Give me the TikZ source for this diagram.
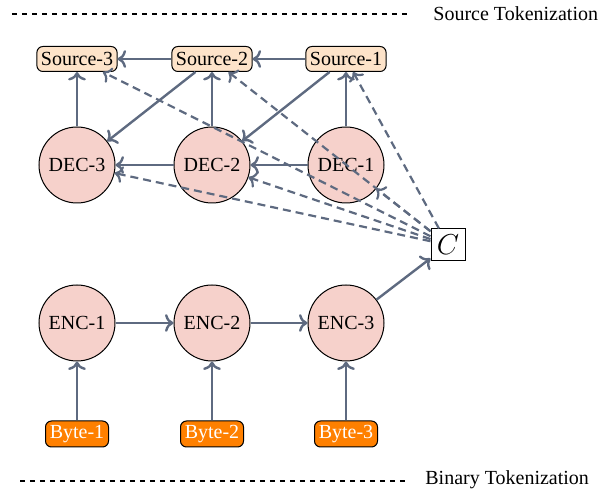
\documentclass[tikz,border=0pt]{standalone}
\usepackage{fontspec}
\setmainfont{Liberation Serif}
\usetikzlibrary{arrows.meta}
\definecolor{edgecol}{HTML}{5E6A80}
\definecolor{srcfill}{HTML}{FDE3C9}
\definecolor{decfill}{HTML}{F6D1CB}
\definecolor{bytefill}{HTML}{FF8000}
\tikzset{
  srcbox/.style={draw=black, line width=0.5pt, fill=srcfill, rounded corners=3pt, minimum width=40pt, minimum height=12.5pt, inner xsep=2pt, inner ysep=1pt, font=\fontsize{10}{12}\selectfont},
  bytebox/.style={draw=black, line width=0.5pt, fill=bytefill, text=white, rounded corners=3pt, minimum width=31.5pt, minimum height=13pt, inner xsep=2pt, inner ysep=1pt, font=\fontsize{10}{12}\selectfont},
  circnode/.style={draw=black, line width=0.5pt, fill=decfill, circle, minimum size=38pt, inner sep=0pt, font=\fontsize{10}{12}\selectfont},
  cbox/.style={draw=black, line width=0.5pt, fill=white, minimum width=17pt, minimum height=16pt, inner sep=1pt},
  conn/.style={->, draw=edgecol, line width=1.2pt},
  dconn/.style={->, draw=edgecol, line width=1.1pt, dash pattern=on 4pt off 2.5pt},
  legline/.style={draw=black, line width=1.1pt, dash pattern=on 2.5pt off 2.5pt},
  legtext/.style={font=\fontsize{10}{12}\selectfont, anchor=west, inner sep=0pt}
}
\begin{document}
\begin{tikzpicture}[x=0.5pt, y=-0.5pt]
\useasboundingbox (0,0) rectangle (607,491);
% legend
\coordinate (l1a) at (12,14);
\coordinate (l1b) at (410,14);
\draw[legline] (l1a) -- (l1b);
\node[legtext] (lt1) at (433,14) {Source Tokenization};
\coordinate (l2a) at (20,481);
\coordinate (l2b) at (405,481);
\draw[legline] (l2a) -- (l2b);
\node[legtext] (lt2) at (425,480) {Binary Tokenization};
% nodes
\node[srcbox] (s3) at (77,59) {Source-3};
\node[srcbox] (s2) at (212,59) {Source-2};
\node[srcbox] (s1) at (346,59) {Source-1};
\node[circnode] (d3) at (77,165) {DEC-3};
\node[circnode] (d2) at (212,165) {DEC-2};
\node[circnode] (d1) at (346,165) {DEC-1};
\node[circnode] (e1) at (77,323) {ENC-1};
\node[circnode] (e2) at (212,323) {ENC-2};
\node[circnode] (e3) at (346,323) {ENC-3};
\node[bytebox] (b1) at (77,434) {Byte-1};
\node[bytebox] (b2) at (212,434) {Byte-2};
\node[bytebox] (b3) at (346,434) {Byte-3};
\node[cbox] (c) at (448,245) {\Large $C$};
% edges
\draw[conn] (s1) -- (s2);
\draw[conn] (s2) -- (s3);
\draw[conn] (d1) -- (s1);
\draw[conn] (d2) -- (s2);
\draw[conn] (d3) -- (s3);
\draw[conn] (s2) -- (d3);
\draw[conn] (s1) -- (d2);
\draw[conn] (d1) -- (d2);
\draw[conn] (d2) -- (d3);
\draw[conn] (e1) -- (e2);
\draw[conn] (e2) -- (e3);
\draw[conn] (e3) -- (c);
\draw[conn] (b1) -- (e1);
\draw[conn] (b2) -- (e2);
\draw[conn] (b3) -- (e3);
\draw[dconn] (c) -- (s1);
\draw[dconn] (c) -- (s2);
\draw[dconn] (c) -- (s3);
\draw[dconn] (c) -- (d1);
\draw[dconn] (c) -- (d2);
\draw[dconn] (c) -- (d3);
\end{tikzpicture}
\end{document}
